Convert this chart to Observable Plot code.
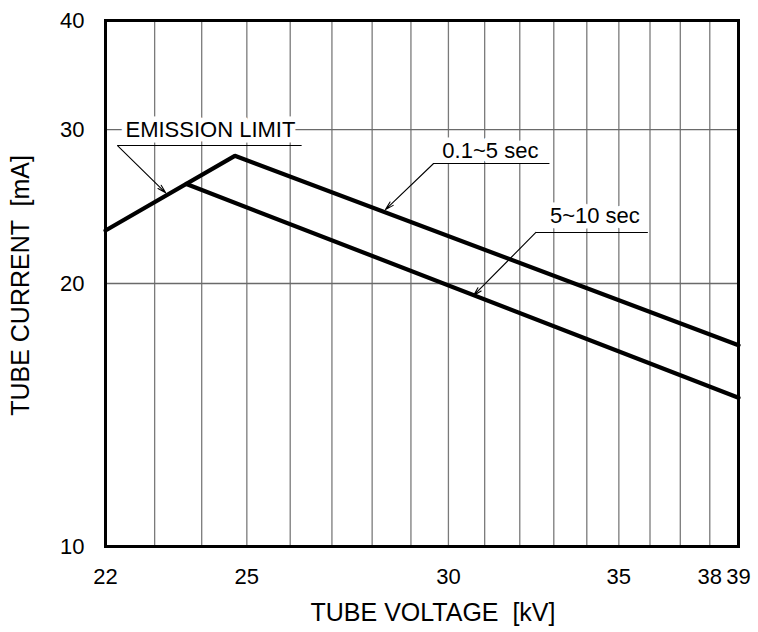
<!DOCTYPE html>
<html>
<head>
<meta charset="utf-8">
<script src="https://cdn.jsdelivr.net/npm/d3@7"></script>
<script src="https://cdn.jsdelivr.net/npm/@observablehq/plot@0.6"></script>
<style>
  html, body { margin: 0; padding: 0; background: #fff; }
  #chart { width: 758px; height: 632px; }
</style>
</head>
<body>
<div id="chart"></div>
<script>
// Tube rating curves: tube current vs. tube voltage (log–log)
const voltageShort = [22, 24.73, 39];     // 0.1~5 sec curve, kV
const currentShort = [23, 28, 17];        // mA
const voltageLong = [23.67, 39];          // 5~10 sec curve, kV
const currentLong = [26, 14.8];           // mA

// Axis ticks and grid
const xTicks = [22, 25, 30, 35, 38, 39];
const xGrid = [22, 23, 24, 25, 26, 27, 28, 29, 30, 31, 32, 33, 34, 35, 36, 37, 38, 39];
const yTicks = [10, 20, 30, 40];
const yGrid = [20, 30];

// Callout labels (anchored in kV / mA)
const noteText = ["EMISSION LIMIT", "0.1~5 sec", "5~10 sec"];
const noteX = [24.19, 31.16, 34.25];
const noteY = [29.39, 27.87, 23.43];
const leaderX1 = [22.24, 29.6, 32.47];
const leaderX2 = [26.27, 32.87, 35.93];
const leaderY = [28.77, 27.44, 22.88];
const tipX = [23.23, 28.34, 30.69];
const tipY = [25.4, 24.3, 19.38];

const shortRows = voltageShort.map((v, i) => ({v, c: currentShort[i]}));
const longRows = voltageLong.map((v, i) => ({v, c: currentLong[i]}));
const notes = noteText.map((t, i) => ({
  t, x: noteX[i], y: noteY[i],
  lx1: leaderX1[i], lx2: leaderX2[i], ly: leaderY[i],
  tx: tipX[i], ty: tipY[i]
}));

const font = "'Liberation Sans', Arial, Helvetica, sans-serif";

const chart = Plot.plot({
  width: 758,
  height: 632,
  marginLeft: 105,
  marginRight: 20,
  marginTop: 20,
  marginBottom: 86,
  style: {fontFamily: font, background: "#fff", color: "#000"},
  x: {type: "log", domain: [22, 39]},
  y: {type: "log", domain: [10, 40]},
  marks: [
    Plot.gridX({ticks: xGrid, stroke: "#7a7a7a", strokeOpacity: 1, strokeWidth: 1.3}),
    Plot.gridY({ticks: yGrid, stroke: "#6a6a6a", strokeOpacity: 1, strokeWidth: 1.3}),
    Plot.axisX({ticks: xTicks, tickFormat: d => String(d), tickSize: 0, tickPadding: 22, fontSize: 22, label: null}),
    Plot.axisY({ticks: yTicks, tickFormat: d => String(d), tickSize: 0, tickPadding: 21, fontSize: 22, label: null}),
    // callout text with a white knock-out behind it
    Plot.text(notes, {x: "x", y: "y", text: "t", fontSize: 22, textAnchor: "middle", lineAnchor: "bottom",
      fill: "#000", stroke: "#fff", strokeWidth: 11}),
    Plot.link(notes, {x1: "lx1", x2: "lx2", y1: "ly", y2: "ly", stroke: "#000", strokeWidth: 1.1}),
    Plot.arrow(notes, {x1: "lx1", y1: "ly", x2: "tx", y2: "ty", stroke: "#000", strokeWidth: 1.1,
      headLength: 12, headAngle: 30}),
    // rating curves
    Plot.line(shortRows, {x: "v", y: "c", stroke: "#000", strokeWidth: 4.2, strokeLinejoin: "miter"}),
    Plot.line(longRows, {x: "v", y: "c", stroke: "#000", strokeWidth: 4.2, strokeLinejoin: "miter"}),
    Plot.frame({stroke: "#000", strokeWidth: 3}),
    // axis titles
    Plot.text(["TUBE VOLTAGE \u00a0[kV]"], {frameAnchor: "bottom", text: d => d, fontSize: 25,
      textAnchor: "middle", lineAnchor: "bottom", dx: 11, dy: 74}),
    Plot.text(["TUBE CURRENT \u00a0[mA]"], {frameAnchor: "left", text: d => d, fontSize: 25,
      textAnchor: "middle", lineAnchor: "bottom", rotate: -90, dx: -77, dy: 2})
  ]
});

document.getElementById("chart").appendChild(chart);
</script>
</body>
</html>
